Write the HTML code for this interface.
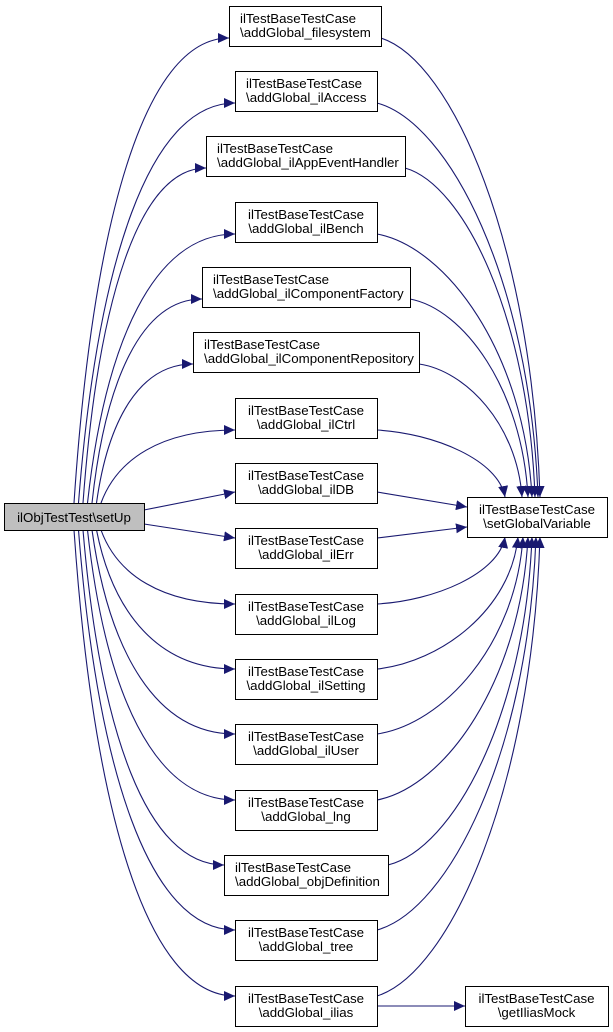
<!DOCTYPE html>
<html><head><meta charset="utf-8"><style>
html,body{margin:0;padding:0;background:#fff;width:613px;height:1032px;overflow:hidden}
svg{display:block}
text{font-family:"Liberation Sans",Arial,sans-serif;font-size:13.3px;fill:#000}
</style></head><body>
<svg id="g" width="613" height="1032" viewBox="0 0 613 1032" xmlns="http://www.w3.org/2000/svg">
<defs><marker id="a" markerUnits="userSpaceOnUse" markerWidth="12" markerHeight="10" refX="11" refY="5" orient="auto"><path d="M0,0 L11,5 L0,10 Z" fill="#191970"/></marker></defs>
</svg>
<script>
var NS="http://www.w3.org/2000/svg",svg=document.getElementById('g');
function el(t,a,txt){var e=document.createElementNS(NS,t);for(var k in a)e.setAttribute(k,a[k]);if(txt)e.textContent=txt;svg.appendChild(e);return e;}
var boxes=[
["\\addGlobal_filesystem",229,381,6,1],
["\\addGlobal_ilAccess",235,377,71,1],
["\\addGlobal_ilAppEventHandler",206,405,136,1],
["\\addGlobal_ilBench",235,377,202,0],
["\\addGlobal_ilComponentFactory",202,410,267,1],
["\\addGlobal_ilComponentRepository",193,419,332,1],
["\\addGlobal_ilCtrl",235,377,398,0],
["\\addGlobal_ilDB",235,377,463,0],
["\\addGlobal_ilErr",235,377,528,0],
["\\addGlobal_ilLog",235,377,594,0],
["\\addGlobal_ilSetting",235,377,659,0],
["\\addGlobal_ilUser",235,377,724,0],
["\\addGlobal_lng",235,377,790,0],
["\\addGlobal_objDefinition",224,388,855,1],
["\\addGlobal_tree",235,377,920,0],
["\\addGlobal_ilias",235,377,986,0]];
var tx=[540,538,535,532,528,522,505,467,467,505,518,523,528,532,536,540];
function P(d){el('path',{d:d,fill:'none',stroke:'#191970','stroke-width':'1.1','marker-end':'url(#a)'});}
boxes.forEach(function(b,i){
 var x0=b[1],x1=b[2],y=b[3],cy=y+20,up=cy<503;
 if(i==7){P("M144,510 L"+x0+","+(y+29));}
 else if(i==8){P("M144,524 L"+x0+","+(y+10));}
 else{
  var sx=74+(7.5-Math.abs(i-7.5))*4.5, sy=up?503:530, ey=up?y+32:y+10;
  var ex=x0, dx=ex-sx, dy=ey-sy;
  P("M"+sx+","+sy+" C"+(sx+0.12*dx)+","+(sy+0.6*dy)+" "+(sx+0.45*dx)+","+ey+" "+ex+","+ey);
 }
 if(i==7){P("M"+x1+","+(y+29)+" L467,507");}
 else if(i==8){P("M"+x1+","+(y+10)+" L467,527");}
 else{
  var rx=x1, ry=up?y+32:y+10, tX=tx[i], tY=up?497:537, dx2=tX-rx, dy2=tY-ry;
  P("M"+rx+","+ry+" C"+(rx+0.45*dx2)+","+(ry+0.05*dy2)+" "+(tX-0.05*dx2)+","+(tY-0.55*dy2)+" "+tX+","+tY);
 }
});
P("M377,1006 L465,1006");
function box(x0,x1,y,h,l1,l2,left,fill){
 el('rect',{x:x0+0.5,y:y+0.5,width:x1-x0,height:h,fill:fill||'#fff',stroke:'#000','stroke-width':'1'});
 var c=(x0+x1)/2;
 if(l2===null){el('text',{x:c,y:y+19,'text-anchor':'middle'},l1);return;}
 if(left){el('text',{x:x0+11,y:y+17},l1);el('text',{x:x0+11,y:y+31},l2);}
 else{el('text',{x:c,y:y+17,'text-anchor':'middle'},l1);el('text',{x:c,y:y+31,'text-anchor':'middle'},l2);}
}
boxes.forEach(function(b){box(b[1],b[2],b[3],40,"ilTestBaseTestCase",b[0],b[4]);});
box(467,607,497,40,"ilTestBaseTestCase","\\setGlobalVariable",0);
box(465,608,986,40,"ilTestBaseTestCase","\\getIliasMock",0);
box(4,144,503,27,"ilObjTestTest\\setUp",null,0,'#bfbfbf');
</script>
</body></html>
